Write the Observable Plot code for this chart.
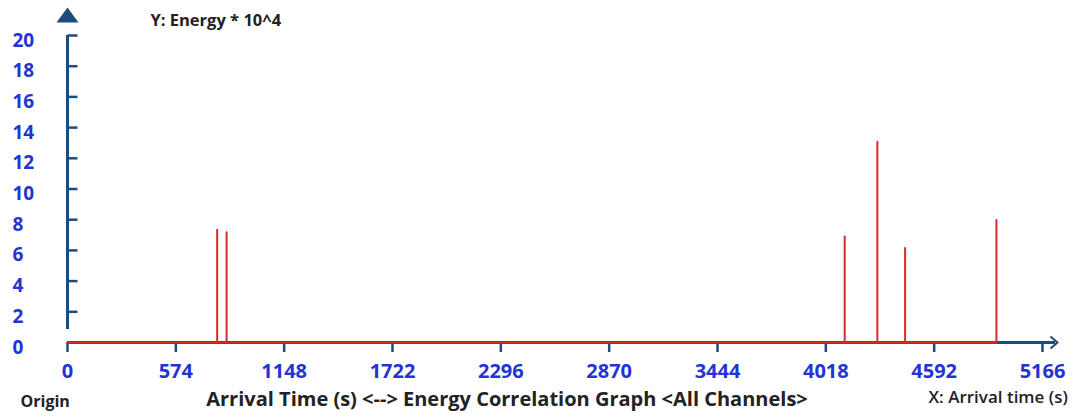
<!DOCTYPE html>
<html>
<head>
<meta charset="utf-8">
<script src="https://cdn.jsdelivr.net/npm/d3@7"></script>
<script src="https://cdn.jsdelivr.net/npm/@observablehq/plot@0.6"></script>
<style>
  html, body { margin: 0; padding: 0; background: #ffffff; }
  #chart svg { display: block; }
</style>
</head>
<body>
<div id="chart"></div>
<script>
// ---- data ----
const xTicks = [0, 574, 1148, 1722, 2296, 2870, 3444, 4018, 4592, 5166];
const yTicks = [0, 2, 4, 6, 8, 10, 12, 14, 16, 18, 20];
const spikeTimes = [793, 843, 4118, 4291, 4438, 4922];
const spikeEnergies = [7.35, 7.18, 6.9, 13.08, 6.16, 7.98];
const yAxisTitle = "Y: Energy * 10^4";
const xAxisTitle = "X: Arrival time (s)";
const chartTitle = "Arrival Time (s) <--> Energy Correlation Graph <All Channels>";
const originLabel = "Origin";

// line table built from the spike arrays (baseline at 0, vertical spikes)
const lineData = [{t: 0, e: 0}];
spikeTimes.forEach((t, i) => {
  lineData.push({t, e: 0}, {t, e: spikeEnergies[i]}, {t, e: 0});
});

const navy = "#1d4b7a";
const blue = "#2433d4";
const red = "#d92b2b";
const dark = "#222222";
const font = "'Open Sans', 'Noto Sans', sans-serif";

const tickRight = {draw(ctx) { ctx.moveTo(0, 0); ctx.lineTo(10, 0); }};
const upArrow = {draw(ctx) { ctx.moveTo(0, -28); ctx.lineTo(-11, -13); ctx.lineTo(11, -13); ctx.closePath(); }};
const chevron = {draw(ctx) { ctx.moveTo(8, -6); ctx.lineTo(15, 0); ctx.lineTo(8, 6); }};

const chart = Plot.plot({
  width: 1087,
  height: 419,
  marginLeft: 67,
  marginRight: 45,
  marginTop: 35,
  marginBottom: 77,
  style: {fontFamily: font, background: "#ffffff"},
  x: {domain: [0, 5166], label: null},
  y: {domain: [0, 20], label: null},
  marks: [
    // axis lines
    Plot.ruleX([0], {y1: 0, y2: 20, insetTop: -13, stroke: navy, strokeWidth: 3}),
    Plot.ruleY([0], {x1: 0, x2: 5166, insetRight: -13, stroke: navy, strokeWidth: 3}),
    Plot.dot([20], {x: () => 0, y: d => d, symbol: upArrow, fill: navy, stroke: "none"}),
    Plot.dot([0], {x: () => 5166, y: d => d, symbol: chevron, fill: "none", stroke: navy, strokeWidth: 2}),
    // y ticks to the right of the axis
    Plot.dot(yTicks.filter(d => d > 0), {x: () => 0, y: d => d, symbol: tickRight, fill: "none", stroke: navy, strokeWidth: 2.5}),
    // axes
    Plot.axisX(xTicks, {tickSize: 10, tickPadding: 11, stroke: navy, strokeWidth: 2.5, fill: blue,
      fontSize: 20, fontWeight: "bold", tickFormat: d => String(d)}),
    Plot.axisY(yTicks, {tickSize: 0, tickPadding: 55, textAnchor: "start", dy: 5, fill: blue,
      fontSize: 19, fontWeight: "bold", tickFormat: d => String(d)}),
    // data line
    Plot.line(lineData, {x: "t", y: "e", stroke: red, strokeWidth: 2}),
    // texts
    Plot.text([yAxisTitle], {text: d => d, frameAnchor: "top-left", dx: 83, dy: -21, textAnchor: "start",
      fill: dark, fontSize: 16.5, fontWeight: "bold"}),
    Plot.text([chartTitle], {text: d => d, frameAnchor: "bottom", dx: -48, dy: 63,
      fill: dark, fontSize: 20, fontWeight: "bold"}),
    Plot.text([originLabel], {text: d => d, frameAnchor: "bottom-left", dx: -47, dy: 64, textAnchor: "start",
      fill: dark, fontSize: 16, fontWeight: "bold"}),
    Plot.text([xAxisTitle], {text: d => d, frameAnchor: "bottom-right", dx: -114, dy: 60, textAnchor: "start",
      fill: dark, fontSize: 17, fontWeight: 600})
  ]
});
document.getElementById("chart").appendChild(chart);
</script>
</body>
</html>
